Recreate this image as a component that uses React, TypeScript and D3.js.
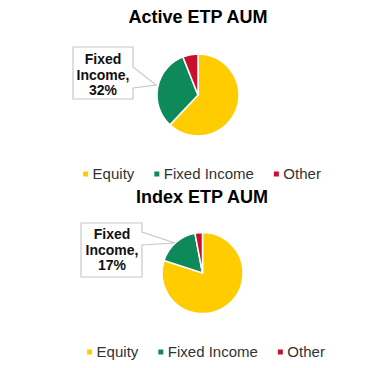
import React from "react";
import * as d3 from "d3";

const categories = ["Equity", "Fixed Income", "Other"];
const colors = ["#FFCC00", "#0E8A5A", "#C8102E"];
const activeValues = [62, 32, 6];
const indexValues = [80, 17, 3];
const chartTitles = ["Active ETP AUM", "Index ETP AUM"];
const calloutLines = [["Fixed", "Income,", "32%"], ["Fixed", "Income,", "17%"]];

const W = 392;
const H = 368;

// layout for each panel
const panels = [
  {
    values: activeValues, title: chartTitles[0], lines: calloutLines[0],
    cx: 198, cy: 95, r: 41, titleY: 23, titleX: 198,
    box: { x0: 73, y0: 47, x1: 133, y1: 99, b0: 67, b1: 88, tx: 156, ty: 85 },
    textX: 103, textY: 64, legendY: 179, legendCx: 202,
  },
  {
    values: indexValues, title: chartTitles[1], lines: calloutLines[1],
    cx: 202.5, cy: 273, r: 40.5, titleY: 203, titleX: 202,
    box: { x0: 81, y0: 223, x1: 142, y1: 277, b0: 232, b1: 245, tx: 175, ty: 243 },
    textX: 112, textY: 239, legendY: 357, legendCx: 206,
  },
];

const App = () => {
  const svgRef = React.useRef(null);

  React.useEffect(() => {
    const svg = d3.select(svgRef.current);
    svg.selectAll("*").remove();

    const color = d3.scaleOrdinal().domain(categories).range(colors);
    const pie = d3.pie().sort(null).value(d => d.value);

    panels.forEach(p => {
      const data = categories.map((c, i) => ({ cat: c, value: p.values[i] }));
      const arc = d3.arc().innerRadius(0).outerRadius(p.r);

      svg.append("text")
        .attr("x", p.titleX).attr("y", p.titleY)
        .attr("text-anchor", "middle")
        .attr("font-family", "Liberation Sans, Arial, sans-serif")
        .attr("font-weight", "bold")
        .attr("font-size", 18)
        .attr("fill", "#000")
        .text(p.title);

      svg.append("g")
        .attr("transform", `translate(${p.cx},${p.cy})`)
        .selectAll("path")
        .data(pie(data))
        .join("path")
        .attr("d", arc)
        .attr("fill", d => color(d.data.cat))
        .attr("stroke", "#fff")
        .attr("stroke-width", 1.5);

      // callout box with pointer
      const b = p.box;
      const path = `M${b.x0},${b.y0}H${b.x1}V${b.b0}L${b.tx},${b.ty}L${b.x1},${b.b1}V${b.y1}H${b.x0}Z`;
      svg.append("path")
        .attr("d", path)
        .attr("fill", "#fff")
        .attr("stroke", "#c8c8c8")
        .attr("stroke-width", 1.2);

      svg.append("g").selectAll("text")
        .data(p.lines)
        .join("text")
        .attr("x", p.textX)
        .attr("y", (d, i) => p.textY + i * 15.5)
        .attr("text-anchor", "middle")
        .attr("font-family", "Liberation Sans, Arial, sans-serif")
        .attr("font-weight", "bold")
        .attr("font-size", 14)
        .attr("fill", "#111")
        .text(d => d);

      // legend
      const lg = svg.append("g");
      const items = lg.selectAll("g").data(categories).join("g");
      items.append("rect")
        .attr("width", 5).attr("height", 5)
        .attr("y", p.legendY - 7.5)
        .attr("fill", d => color(d));
      items.append("text")
        .attr("x", 9.5)
        .attr("y", p.legendY)
        .attr("font-family", "Liberation Sans, Arial, sans-serif")
        .attr("font-size", 15)
        .attr("fill", "#333")
        .text(d => d);
      let x = 0;
      const xs = [];
      items.each(function () {
        xs.push(x);
        const w = d3.select(this).select("text").node().getComputedTextLength();
        x += 9.5 + w + 20;
      });
      const total = x - 20;
      const start = p.legendCx - total / 2;
      items.attr("transform", (d, i) => `translate(${start + xs[i]},0)`);
    });
  }, []);

  return (
    <svg ref={svgRef} width={W} height={H}
      style={{ position: "absolute", left: 0, top: 0, background: "#fff" }} />
  );
};

export default App;
